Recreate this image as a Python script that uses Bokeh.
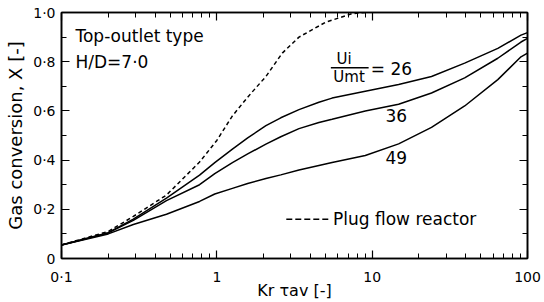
from bokeh.plotting import figure
from bokeh.models import FixedTicker, LinearAxis, LogAxis, Range1d, Label
from bokeh.embed import file_html
from bokeh.resources import INLINE

# ---- data ----
x_plug = [0.1, 0.2, 0.29, 0.474, 0.774, 1.0, 1.26, 1.6, 2.07, 2.64, 3.38, 5.0, 7.4, 9.0]
y_plug = [0.055, 0.11, 0.171, 0.258, 0.392, 0.48, 0.58, 0.66, 0.74, 0.835, 0.90, 0.96, 0.995, 1.0]

x_26 = [0.1, 0.2, 0.29, 0.474, 0.774, 0.97, 1.26, 1.58, 2.07, 2.58, 3.38, 4.54, 5.52,
        9.03, 14.8, 24.1, 39.4, 64.4, 90.8, 100]
y_26 = [0.055, 0.105, 0.16, 0.245, 0.339, 0.39, 0.445, 0.49, 0.54, 0.572, 0.605, 0.635, 0.652,
        0.68, 0.707, 0.74, 0.794, 0.854, 0.908, 0.918]

x_36 = [0.1, 0.2, 0.29, 0.474, 0.774, 0.97, 1.26, 1.58, 2.07, 2.58, 3.38, 4.54, 5.52,
        9.03, 14.8, 24.1, 39.4, 64.4, 90.8, 100]
y_36 = [0.055, 0.104, 0.155, 0.235, 0.30, 0.345, 0.39, 0.425, 0.465, 0.495, 0.528, 0.553, 0.566,
        0.60, 0.627, 0.673, 0.734, 0.814, 0.88, 0.895]

x_49 = [0.1, 0.2, 0.29, 0.474, 0.774, 0.97, 1.26, 1.58, 2.07, 2.58, 3.38, 4.54, 5.52,
        9.03, 14.8, 24.1, 39.4, 64.4, 90.8, 100]
y_49 = [0.055, 0.10, 0.138, 0.18, 0.232, 0.262, 0.285, 0.305, 0.325, 0.34, 0.36, 0.378, 0.39,
        0.419, 0.466, 0.533, 0.62, 0.727, 0.82, 0.835]

x_ticks = [0.1, 1, 10, 100]
x_tick_labels = ["0·1", "1", "10", "100"]
x_minor = [0.2, 0.3, 0.4, 0.5, 0.6, 0.7, 0.8, 0.9, 2, 3, 4, 5, 6, 7, 8, 9,
           20, 30, 40, 50, 60, 70, 80, 90]
y_ticks = [0, 0.2, 0.4, 0.6, 0.8, 1.0]
y_tick_labels = ["0", "0·2", "0·4", "0·6", "0·8", "1·0"]
y_minor = [0.1, 0.3, 0.5, 0.7, 0.9]

FONT = "DejaVu Sans"

p = figure(width=544, height=302, x_axis_type="log",
           x_range=Range1d(0.1, 100), y_range=Range1d(0, 1.0),
           output_backend="svg", toolbar_location=None,
           min_border_left=61, min_border_right=17, min_border_top=12, min_border_bottom=41)
p.grid.visible = False
p.outline_line_color = "black"
p.outline_line_width = 1.5
p.background_fill_color = "white"
p.border_fill_color = "white"

def style(ax, labels=True):
    ax.major_tick_in = 8
    ax.major_tick_out = 0
    ax.minor_tick_in = 5
    ax.minor_tick_out = 0
    ax.axis_line_width = 1.6
    ax.major_tick_line_width = 1.2
    ax.minor_tick_line_width = 1.0
    ax.axis_line_color = "black"
    ax.major_tick_line_color = "black"
    ax.minor_tick_line_color = "black"
    ax.major_label_text_font = FONT
    ax.major_label_text_color = "black"
    ax.axis_label_text_font = FONT
    ax.axis_label_text_font_style = "normal"
    ax.axis_label_text_color = "black"
    if not labels:
        ax.major_label_text_font_size = "1px"
        ax.major_label_text_color = None
        ax.major_label_standoff = 0

xt = FixedTicker(ticks=x_ticks, minor_ticks=x_minor)
yt = FixedTicker(ticks=y_ticks, minor_ticks=y_minor)

xa = p.xaxis[0]
xa.ticker = xt
xa.major_label_overrides = {t: l for t, l in zip(x_ticks, x_tick_labels)}
style(xa)
xa.major_label_text_font_size = "14px"
xa.major_label_standoff = 10
xa.axis_label = "Kr τav [-]"
xa.axis_label_text_font_size = "16px"
xa.axis_label_standoff = -7

ya = p.yaxis[0]
ya.ticker = yt
ya.major_label_overrides = {t: l for t, l in zip(y_ticks, y_tick_labels)}
style(ya)
ya.major_label_text_font_size = "14px"
ya.major_label_standoff = 6
ya.axis_label = "Gas conversion, X [-]"
ya.axis_label_text_font_size = "18px"
ya.axis_label_standoff = 4

top = LogAxis(ticker=FixedTicker(ticks=x_ticks, minor_ticks=x_minor))
style(top, labels=False)
p.add_layout(top, "above")
right = LinearAxis(ticker=FixedTicker(ticks=y_ticks, minor_ticks=y_minor))
style(right, labels=False)
p.add_layout(right, "right")

p.line(x_plug, y_plug, line_color="black", line_width=1.5, line_dash="4 3")
p.line(x_26, y_26, line_color="black", line_width=1.5)
p.line(x_36, y_36, line_color="black", line_width=1.5)
p.line(x_49, y_49, line_color="black", line_width=1.5)

def lab(x, y, t, size="17px", align="left", base="middle"):
    p.add_layout(Label(x=x, y=y, text=t, text_font=FONT, text_font_size=size,
                       text_align=align, text_baseline=base, text_color="black"))

lab(0.123, 0.905, "Top-outlet type")
lab(0.123, 0.80, "H/D=7·0")
lab(6.6, 0.812, "Ui", size="15px", align="center")
lab(7.1, 0.737, "Umt", size="15px", align="center")
p.line([5.42, 9.49], [0.775, 0.775], line_color="black", line_width=1.5)
lab(9.8, 0.77, "= 26")
lab(14.3, 0.58, "36", align="center")
lab(14.3, 0.41, "49", align="center")
p.line([2.8, 5.35], [0.16, 0.16], line_color="black", line_width=1.5, line_dash="6 3")
lab(5.6, 0.162, "Plug flow reactor")

open("out.html", "w").write(file_html(p, INLINE))
